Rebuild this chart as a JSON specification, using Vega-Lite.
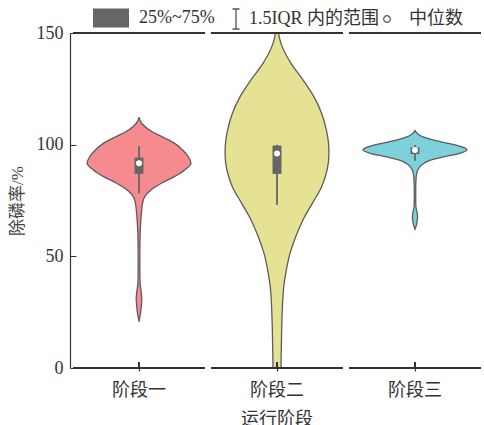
{
  "$schema": "https://vega.github.io/schema/vega-lite/v6.json",
  "padding": {"left": 8, "top": 0, "right": 0, "bottom": 0},
  "config": {
    "view": {"stroke": null},
    "font": "'Liberation Serif', 'Noto Sans CJK SC'",
    "axis": {"labelFont": "'Liberation Serif', 'Noto Sans CJK SC'", "titleFont": "'Liberation Serif', 'Noto Sans CJK SC'"}
  },
  "data": {"values": [
    {"stage":"阶段一","value":20.7,"w":0},{"stage":"阶段一","value":22.5,"w":0.014},{"stage":"阶段一","value":25,"w":0.032},{"stage":"阶段一","value":28,"w":0.046},{"stage":"阶段一","value":31,"w":0.054},{"stage":"阶段一","value":34,"w":0.043},{"stage":"阶段一","value":37,"w":0.025},{"stage":"阶段一","value":40,"w":0.018},{"stage":"阶段一","value":45,"w":0.016},{"stage":"阶段一","value":50,"w":0.016},{"stage":"阶段一","value":55,"w":0.018},{"stage":"阶段一","value":60,"w":0.022},{"stage":"阶段一","value":64,"w":0.03},{"stage":"阶段一","value":68,"w":0.041},{"stage":"阶段一","value":72,"w":0.058},{"stage":"阶段一","value":74,"w":0.07},{"stage":"阶段一","value":76.7,"w":0.11},{"stage":"阶段一","value":79.7,"w":0.23},{"stage":"阶段一","value":82.7,"w":0.43},{"stage":"阶段一","value":85.7,"w":0.68},{"stage":"阶段一","value":88.7,"w":0.88},{"stage":"阶段一","value":91.7,"w":1.0},{"stage":"阶段一","value":94.6,"w":0.95},{"stage":"阶段一","value":97.6,"w":0.84},{"stage":"阶段一","value":100.7,"w":0.68},{"stage":"阶段一","value":103.7,"w":0.43},{"stage":"阶段一","value":106.6,"w":0.2},{"stage":"阶段一","value":109.6,"w":0.05},{"stage":"阶段一","value":112.3,"w":0},
    {"stage":"阶段二","value":0,"w":0.077},{"stage":"阶段二","value":5,"w":0.08},{"stage":"阶段二","value":10,"w":0.084},{"stage":"阶段二","value":17,"w":0.089},{"stage":"阶段二","value":23,"w":0.097},{"stage":"阶段二","value":29,"w":0.107},{"stage":"阶段二","value":36.4,"w":0.13},{"stage":"阶段二","value":43.9,"w":0.18},{"stage":"阶段二","value":51.3,"w":0.25},{"stage":"阶段二","value":58.8,"w":0.36},{"stage":"阶段二","value":66.3,"w":0.5},{"stage":"阶段二","value":73.7,"w":0.68},{"stage":"阶段二","value":81.2,"w":0.86},{"stage":"阶段二","value":88.7,"w":0.965},{"stage":"阶段二","value":96.1,"w":1.0},{"stage":"阶段二","value":101,"w":0.99},{"stage":"阶段二","value":106.6,"w":0.95},{"stage":"阶段二","value":114,"w":0.86},{"stage":"阶段二","value":121.5,"w":0.71},{"stage":"阶段二","value":129,"w":0.5},{"stage":"阶段二","value":136.4,"w":0.27},{"stage":"阶段二","value":143.9,"w":0.1},{"stage":"阶段二","value":147,"w":0.055},{"stage":"阶段二","value":150,"w":0.03},
    {"stage":"阶段三","value":62.1,"w":0},{"stage":"阶段三","value":63.5,"w":0.022},{"stage":"阶段三","value":65.5,"w":0.04},{"stage":"阶段三","value":67.7,"w":0.05},{"stage":"阶段三","value":70,"w":0.036},{"stage":"阶段三","value":72.2,"w":0.018},{"stage":"阶段三","value":75,"w":0.014},{"stage":"阶段三","value":80,"w":0.014},{"stage":"阶段三","value":84,"w":0.018},{"stage":"阶段三","value":86.4,"w":0.027},{"stage":"阶段三","value":88.7,"w":0.054},{"stage":"阶段三","value":90.9,"w":0.125},{"stage":"阶段三","value":93.1,"w":0.3},{"stage":"阶段三","value":94.6,"w":0.57},{"stage":"阶段三","value":96.1,"w":0.86},{"stage":"阶段三","value":97.6,"w":1.0},{"stage":"阶段三","value":98.8,"w":0.93},{"stage":"阶段三","value":99.9,"w":0.77},{"stage":"阶段三","value":101.3,"w":0.5},{"stage":"阶段三","value":102.5,"w":0.29},{"stage":"阶段三","value":103.6,"w":0.14},{"stage":"阶段三","value":104.8,"w":0.054},{"stage":"阶段三","value":106.3,"w":0},
    {"stage":"阶段一","q1":86.9,"q3":94.2,"med":91.7,"lo":78.2,"hi":99.4},
    {"stage":"阶段二","q1":86.9,"q3":99.6,"med":96.1,"lo":73.0,"hi":100.0},
    {"stage":"阶段三","q1":95.8,"q3":98.8,"med":97.6,"lo":92.8,"hi":99.9}
  ]},
  "facet": {
    "column": {
      "field": "stage", "type": "nominal", "sort": ["阶段一","阶段二","阶段三"],
      "header": {"labelOrient": "bottom", "titleOrient": "bottom", "title": "运行阶段",
        "labelFont": "'Liberation Serif', 'Noto Sans CJK SC'", "titleFont": "'Liberation Serif', 'Noto Sans CJK SC'",
        "labelFontSize": 18, "titleFontSize": 18, "titleFontWeight": "normal", "labelColor": "#333", "titleColor": "#333",
        "labelPadding": 10, "titlePadding": 1}
    }
  },
  "spacing": 0,
  "spec": {
    "width": 138,
    "height": 335,
    "layer": [
      {
        "transform": [{"filter": {"field": "w", "valid": true}}],
        "mark": {"type": "area", "orient": "horizontal", "interpolate": "monotone", "stroke": "#5c5c5c", "strokeWidth": 1.3, "fillOpacity": 1},
        "encoding": {
          "y": {"field": "value", "type": "quantitative", "scale": {"domain": [0, 150], "nice": false}, "title": "除磷率/%",
            "axis": {"values": [0, 50, 100, 150], "grid": false, "tickSize": -6, "labelPadding": 13, "labelFontSize": 18, "labelColor": "#333", "titleFontSize": 17, "titleFontWeight": "normal", "titleColor": "#444", "titlePadding": 10, "domainColor": "#333", "tickColor": "#333", "domainWidth": 1.2, "zindex": 1}},
          "x": {"field": "w", "type": "quantitative", "stack": "center", "scale": {"domain": [-0.116, 1.116], "nice": false, "zero": false},
            "axis": {"orient": "bottom", "values": [0.5], "labels": false, "title": null, "grid": false, "domain": false, "tickSize": -6, "tickColor": "#333", "tickWidth": 1.2, "zindex": 1}},
          "color": {"field": "stage", "type": "nominal", "scale": {"domain": ["阶段一","阶段二","阶段三"], "range": ["#F58B8E", "#E5E293", "#7DD1DA"]}, "legend": null}
        }
      },
      {
        "mark": {"type": "rule", "color": "#333", "strokeWidth": 1.2},
        "encoding": {"y": {"datum": 150, "type": "quantitative", "title": "除磷率/%"}, "x": {"datum": -0.13, "type": "quantitative"}, "x2": {"datum": 1.13}}
      },
      {
        "mark": {"type": "rule", "color": "#333", "strokeWidth": 1.2},
        "encoding": {"y": {"datum": 0, "type": "quantitative", "title": "除磷率/%"}, "x": {"datum": -0.13, "type": "quantitative"}, "x2": {"datum": 1.13}}
      },
      {
        "mark": {"type": "rule", "color": "#333", "strokeWidth": 1.2},
        "encoding": {"x": {"datum": 0.5, "type": "quantitative"}, "y": {"datum": 0, "type": "quantitative", "title": "除磷率/%"}, "y2": {"datum": 2.7}}
      },
      {
        "transform": [{"filter": {"field": "q1", "valid": true}}],
        "mark": {"type": "rule", "color": "#666", "strokeWidth": 1.8},
        "encoding": {
          "x": {"datum": 0.5, "type": "quantitative"},
          "y": {"field": "lo", "type": "quantitative", "title": "除磷率/%"},
          "y2": {"field": "hi"}
        }
      },
      {
        "transform": [{"filter": {"field": "q1", "valid": true}}],
        "mark": {"type": "bar", "color": "#666", "size": 9},
        "encoding": {
          "x": {"datum": 0.5, "type": "quantitative"},
          "y": {"field": "q1", "type": "quantitative", "title": "除磷率/%"},
          "y2": {"field": "q3"},
          "fill": {"datum": "25%~75%", "type": "nominal",
            "scale": {"domain": ["25%~75%"], "range": ["#666666"]},
            "legend": {"orient": "none", "legendX": 23, "legendY": -33, "direction": "horizontal", "title": null,
              "symbolType": "M-1,-0.53H1V0.53H-1Z", "symbolSize": 1296, "symbolStrokeWidth": 0,
              "labelFontSize": 18, "labelFont": "'Liberation Serif', 'Noto Sans CJK SC'", "labelColor": "#333", "labelOffset": 10}}
        }
      },
      {
        "transform": [{"filter": {"field": "q1", "valid": true}}],
        "mark": {"type": "point", "filled": true, "color": "white", "shape": "circle", "size": 36, "opacity": 1},
        "encoding": {
          "x": {"datum": 0.5, "type": "quantitative"},
          "y": {"field": "med", "type": "quantitative", "title": "除磷率/%"}
        }
      },
      {
        "transform": [{"filter": {"field": "q1", "valid": true}}],
        "mark": {"type": "point", "filled": false, "color": "#555555", "strokeWidth": 1.3, "size": 400, "opacity": 0},
        "encoding": {
          "x": {"datum": 0.5, "type": "quantitative"},
          "y": {"field": "med", "type": "quantitative", "title": "除磷率/%"},
          "shape": {"datum": "1.5IQR 内的范围", "type": "nominal",
            "scale": {"domain": ["1.5IQR 内的范围"], "range": ["M-0.35,-1H0.35M0,-1V1M-0.35,1H0.35"]},
            "legend": {"orient": "none", "legendX": 155, "legendY": -25, "direction": "horizontal", "title": null,
              "symbolSize": 400, "symbolStrokeWidth": 1.3, "symbolStrokeColor": "#555555", "symbolOpacity": 1,
              "labelFontSize": 18, "labelFont": "'Liberation Serif', 'Noto Sans CJK SC'", "labelColor": "#333", "labelOffset": 2}
          }
        }
      },
      {
        "transform": [{"filter": {"field": "q1", "valid": true}}],
        "mark": {"type": "point", "filled": false, "color": "#555555", "strokeWidth": 1.2, "shape": "M0.55,0A0.55,0.55 0 1,1 -0.55,0A0.55,0.55 0 1,1 0.55,0Z", "size": 144, "opacity": 0},
        "encoding": {
          "x": {"datum": 0.5, "type": "quantitative"},
          "y": {"field": "med", "type": "quantitative", "title": "除磷率/%"},
          "strokeDash": {"datum": "中位数", "type": "nominal",
            "scale": {"domain": ["中位数"], "range": [[1, 0]]},
            "legend": {"orient": "none", "legendX": 308, "legendY": -23, "direction": "horizontal", "title": null,
              "symbolType": "M0.55,0A0.55,0.55 0 1,1 -0.55,0A0.55,0.55 0 1,1 0.55,0Z", "symbolSize": 144,
              "symbolStrokeWidth": 1.2, "symbolStrokeColor": "#555555", "symbolFillColor": "transparent", "symbolOpacity": 1,
              "labelFontSize": 18, "labelFont": "'Liberation Serif', 'Noto Sans CJK SC'", "labelColor": "#333", "labelOffset": 13}
          }
        }
      }
    ]
  }
}
